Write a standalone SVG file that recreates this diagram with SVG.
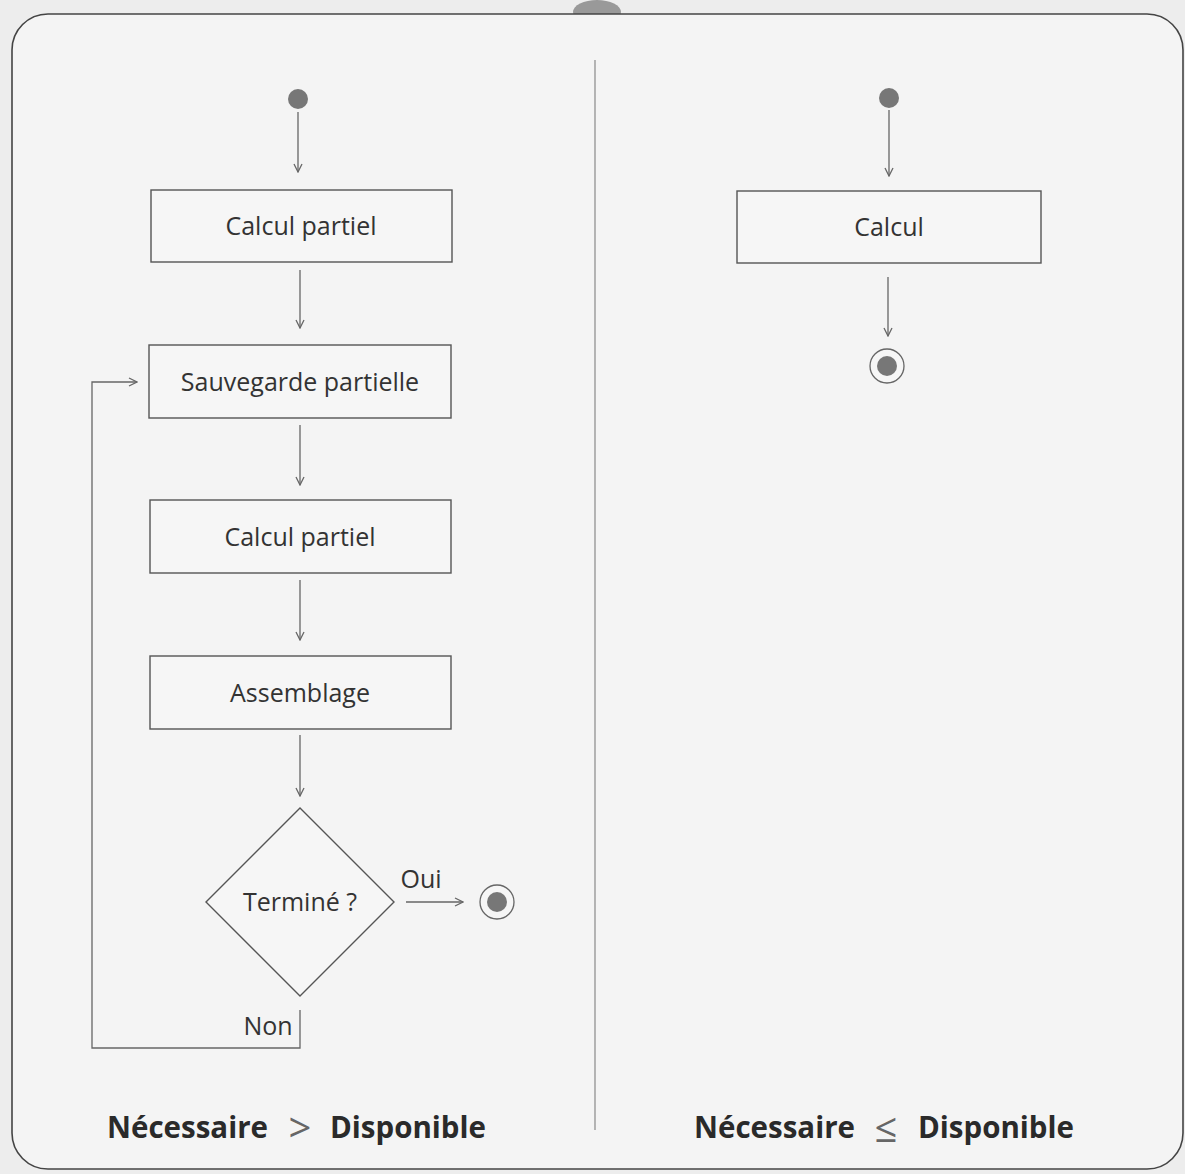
<svg xmlns="http://www.w3.org/2000/svg" width="1185" height="1174" viewBox="0 0 1185 1174">
<style>
.bg{fill:#ededed}
.frame{fill:#f4f4f4;stroke:#444;stroke-width:1.6}
.box{fill:#f6f6f6;stroke:#555;stroke-width:1.4}
.lbl{font-family:"Open Sans","Noto Sans",sans-serif;font-size:25px;fill:#333;text-anchor:middle}
.edge{fill:none;stroke:#666;stroke-width:1.3}
.title{font-family:"Open Sans","Noto Sans",sans-serif;font-size:29.5px;font-weight:bold;fill:#2a2a2a}
.sym{font-family:"Open Sans","Noto Sans",sans-serif;fill:#666;font-size:40px;text-anchor:middle}
.dot{fill:#777}
</style>
<defs>
<marker id="arr" viewBox="0 0 10 10" refX="9" refY="5" markerWidth="10" markerHeight="10" markerUnits="userSpaceOnUse" orient="auto">
<polyline points="1,1 9,5 1,9" fill="none" stroke="#666" stroke-width="1.3"/>
</marker>
</defs>
<rect class="bg" x="0" y="0" width="1185" height="1174"/>
<ellipse cx="597" cy="12" rx="24" ry="12" fill="#999"/>
<rect class="frame" x="12" y="14" width="1171" height="1155" rx="36"/>
<line x1="595" y1="60" x2="595" y2="1130" stroke="#888" stroke-width="1.2"/>

<g id="connectors">
<line class="edge" x1="298" y1="112" x2="298" y2="172" marker-end="url(#arr)"/>
<line class="edge" x1="300" y1="270" x2="300" y2="328" marker-end="url(#arr)"/>
<line class="edge" x1="300" y1="425" x2="300" y2="485" marker-end="url(#arr)"/>
<line class="edge" x1="300" y1="580" x2="300" y2="640" marker-end="url(#arr)"/>
<line class="edge" x1="300" y1="735" x2="300" y2="796" marker-end="url(#arr)"/>
<line class="edge" x1="406" y1="902" x2="463" y2="902" marker-end="url(#arr)"/>
<polyline class="edge" points="300,1010 300,1048 92,1048 92,382 137,382" marker-end="url(#arr)"/>
<text class="lbl" x="421" y="888" font-size="23">Oui</text>
<text class="lbl" x="268" y="1035">Non</text>
<line class="edge" x1="889" y1="110" x2="889" y2="176" marker-end="url(#arr)"/>
<line class="edge" x1="888" y1="277" x2="888" y2="336" marker-end="url(#arr)"/>
</g>

<g id="start-left"><circle class="dot" cx="298" cy="99" r="10"/></g>
<g id="calcul-partiel-1"><rect class="box" x="151" y="190" width="301" height="72"/><text class="lbl" x="301" y="235">Calcul partiel</text></g>
<g id="sauvegarde"><rect class="box" x="149" y="345" width="302" height="73"/><text class="lbl" x="300" y="391">Sauvegarde partielle</text></g>
<g id="calcul-partiel-2"><rect class="box" x="150" y="500" width="301" height="73"/><text class="lbl" x="300" y="546">Calcul partiel</text></g>
<g id="assemblage"><rect class="box" x="150" y="656" width="301" height="73"/><text class="lbl" x="300" y="702">Assemblage</text></g>
<g id="termine"><polygon class="box" points="300,808 394,902 300,996 206,902"/><text class="lbl" x="300" y="911">Terminé ?</text></g>
<g id="end-left"><circle cx="497" cy="902" r="17" fill="#f6f6f6" stroke="#666" stroke-width="1.3"/><circle class="dot" cx="497" cy="902" r="10"/></g>

<g id="start-right"><circle class="dot" cx="889" cy="98" r="10"/></g>
<g id="calcul"><rect class="box" x="737" y="191" width="304" height="72"/><text class="lbl" x="889" y="236">Calcul</text></g>
<g id="end-right"><circle cx="887" cy="366" r="17" fill="#f6f6f6" stroke="#666" stroke-width="1.3"/><circle class="dot" cx="887" cy="366" r="10"/></g>

<g id="title-left">
<text class="title" x="268" y="1138" text-anchor="end">Nécessaire</text>
<text class="sym" x="300" y="1142">&gt;</text>
<text class="title" x="330" y="1138">Disponible</text>
</g>
<g id="title-right">
<text class="title" x="855" y="1138" text-anchor="end">Nécessaire</text>
<text class="sym" x="886" y="1142">≤</text>
<text class="title" x="918" y="1138">Disponible</text>
</g>
</svg>
